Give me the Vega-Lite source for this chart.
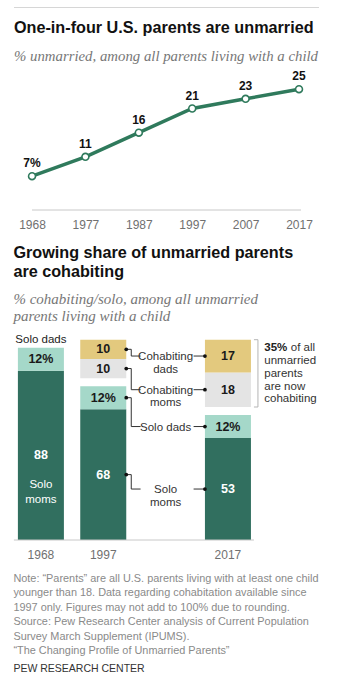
{
  "$schema": "https://vega.github.io/schema/vega-lite/v6.json",
  "background": "white",
  "padding": {"left": 13, "top": 4, "right": 0, "bottom": 0},
  "spacing": 9,
  "config": {
    "view": {"stroke": null},
    "font": "Liberation Sans",
    "axis": {"grid": false}
  },
  "title": {
    "text": [
      "Note: “Parents” are all U.S. parents living with at least one child",
      "younger than 18. Data regarding cohabitation available since",
      "1997 only. Figures may not add to 100% due to rounding.",
      "Source: Pew Research Center analysis of Current Population",
      "Survey March Supplement (IPUMS).",
      "“The Changing Profile of Unmarried Parents”"
    ],
    "subtitle": "PEW RESEARCH CENTER",
    "orient": "bottom",
    "anchor": "start",
    "font": "Liberation Sans",
    "fontSize": 10.9,
    "fontWeight": "normal",
    "color": "#8a8a8a",
    "lineHeight": 14.4,
    "subtitleFont": "Liberation Sans",
    "subtitleFontSize": 10.5,
    "subtitleColor": "#333333",
    "subtitlePadding": 8,
    "offset": 13
  },
  "vconcat": [
    {
      "width": 305,
      "height": 1,
      "data": {"values": [{"a": 1}]},
      "mark": {"type": "point", "opacity": 0},
      "encoding": {},
      "view": {"fill": "#d6d6d6", "stroke": null}
    },
    {
      "width": 305,
      "height": 145,
      "title": {
        "text": "One-in-four U.S. parents are unmarried",
        "subtitle": "% unmarried, among all parents living with a child",
        "anchor": "start",
        "font": "Liberation Sans",
        "fontSize": 16.2,
        "fontWeight": "bold",
        "color": "#111111",
        "subtitleFont": "Liberation Serif",
        "subtitleFontStyle": "italic",
        "subtitleFontSize": 14.8,
        "subtitleColor": "#777777",
        "subtitlePadding": 13,
        "offset": 1
      },
      "data": {
        "values": [
          {"year": "1968", "pct": 7, "label": "7%"},
          {"year": "1977", "pct": 11, "label": "11"},
          {"year": "1987", "pct": 16, "label": "16"},
          {"year": "1997", "pct": 21, "label": "21"},
          {"year": "2007", "pct": 23, "label": "23"},
          {"year": "2017", "pct": 25, "label": "25"}
        ]
      },
      "encoding": {
        "x": {
          "field": "year",
          "type": "ordinal",
          "scale": {"type": "point", "padding": 0.356, "align": 0.474},
          "axis": {
            "title": null,
            "domain": false,
            "ticks": false,
            "labelAngle": 0,
            "labelFont": "Liberation Sans",
            "labelFontSize": 12,
            "labelColor": "#707070",
            "labelPadding": 9,
            "minExtent": 26
          }
        },
        "y": {
          "field": "pct",
          "type": "quantitative",
          "scale": {"domain": [0, 30], "nice": false},
          "axis": null
        }
      },
      "layer": [
        {
          "transform": [{"filter": {"field": "year", "equal": "1968"}}],
          "mark": {"type": "rule", "color": "#c8c8c8", "strokeWidth": 1, "x2Offset": 2},
          "encoding": {
            "x": {"datum": "1968"},
            "x2": {"datum": "2017"},
            "y": {"datum": 0}
          }
        },
        {
          "mark": {"type": "line", "color": "#2f7a5c", "strokeWidth": 3.5}
        },
        {
          "mark": {"type": "point", "filled": true, "fill": "#ffffff", "stroke": "#2f7a5c", "strokeWidth": 1.6, "size": 48, "opacity": 1}
        },
        {
          "mark": {"type": "text", "dy": -13, "font": "Liberation Sans", "fontWeight": "bold", "fontSize": 12, "color": "#111111"},
          "encoding": {"text": {"field": "label"}}
        }
      ]
    },
    {
      "width": 305,
      "height": 200,
      "title": {
        "text": ["Growing share of unmarried parents", "are cohabiting"],
        "subtitle": ["% cohabiting/solo, among all unmarried", "parents living with a child"],
        "anchor": "start",
        "font": "Liberation Sans",
        "fontSize": 16.2,
        "fontWeight": "bold",
        "color": "#111111",
        "lineHeight": 19,
        "subtitleFont": "Liberation Serif",
        "subtitleFontStyle": "italic",
        "subtitleFontSize": 15,
        "subtitleColor": "#777777",
        "subtitleLineHeight": 17,
        "subtitlePadding": 11,
        "offset": 10
      },
      "data": {
        "values": [
          {"year": "1968", "cat": "Solo\nmoms", "group": "solo", "pct": 88, "label": "88", "order": 1},
          {"year": "1968", "cat": "Solo dads", "group": "solo", "pct": 12, "label": "12%", "order": 2},
          {"year": "1997", "cat": "Solo\nmoms", "group": "solo", "pct": 68, "label": "68", "order": 1},
          {"year": "1997", "cat": "Solo dads", "group": "solo", "pct": 12, "label": "12%", "order": 2},
          {"year": "1997", "cat": "Cohabiting\nmoms", "group": "cohab", "pct": 10, "label": "10", "order": 3},
          {"year": "1997", "cat": "Cohabiting\ndads", "group": "cohab", "pct": 10, "label": "10", "order": 4},
          {"year": "2017", "cat": "Solo\nmoms", "group": "solo", "pct": 53, "label": "53", "order": 1},
          {"year": "2017", "cat": "Solo dads", "group": "solo", "pct": 12, "label": "12%", "order": 2},
          {"year": "2017", "cat": "Cohabiting\nmoms", "group": "cohab", "pct": 18, "label": "18", "order": 3},
          {"year": "2017", "cat": "Cohabiting\ndads", "group": "cohab", "pct": 17, "label": "17", "order": 4}
        ]
      },
      "transform": [
        {"stack": "pct", "groupby": ["year"], "sort": [{"field": "order", "order": "ascending"}], "as": ["y0", "y1"]},
        {"fold": ["y0", "y1"], "as": ["edge", "edgeval"]},
        {"joinaggregate": [{"op": "mean", "field": "edgeval", "as": "mid"}], "groupby": ["year", "cat"]},
        {"filter": {"field": "edge", "equal": "y0"}}
      ],
      "encoding": {
        "x": {
          "field": "year",
          "type": "nominal",
          "scale": {"domain": ["1968", "1997", "lab", "2017", "note"], "paddingInner": 0.262, "paddingOuter": 0.077, "align": 0.406},
          "axis": {
            "values": ["1968", "1997", "2017"],
            "title": null,
            "domain": false,
            "ticks": false,
            "labelAngle": 0,
            "labelFont": "Liberation Sans",
            "labelFontSize": 12,
            "labelColor": "#707070",
            "labelPadding": 9
          }
        }
      },
      "layer": [
        {
          "transform": [{"filter": {"field": "group", "equal": "solo"}}],
          "mark": {"type": "bar"},
          "encoding": {
            "y": {"field": "y0", "type": "quantitative", "scale": {"domain": [0, 104], "nice": false}, "axis": null},
            "y2": {"field": "y1"},
            "color": {
              "field": "cat",
              "type": "nominal",
              "scale": {"domain": ["Solo\nmoms", "Solo dads", "Cohabiting\nmoms", "Cohabiting\ndads"], "range": ["#316f5f", "#a5d8c9", "#e4e4e4", "#e3c97e"]},
              "legend": null
            }
          }
        },
        {
          "transform": [{"filter": {"field": "group", "equal": "cohab"}}],
          "mark": {"type": "bar", "yOffset": -8, "y2Offset": -8},
          "encoding": {
            "y": {"field": "y0", "type": "quantitative"},
            "y2": {"field": "y1"},
            "color": {"field": "cat", "type": "nominal", "legend": null}
          }
        },
        {
          "transform": [{"filter": {"field": "order", "equal": 1}}, {"filter": {"field": "year", "equal": "1968"}}],
          "mark": {"type": "rule", "color": "#c8c8c8", "strokeWidth": 1, "xOffset": -4, "x2Offset": 3},
          "encoding": {
            "x": {"datum": "1968", "bandPosition": 0},
            "x2": {"datum": "2017", "bandPosition": 1},
            "y": {"datum": 0}
          }
        },
        {
          "transform": [{"filter": {"field": "group", "equal": "solo"}}],
          "mark": {"type": "text", "font": "Liberation Sans", "fontWeight": "bold", "fontSize": 12.5, "baseline": "middle"},
          "encoding": {
            "y": {"field": "mid", "type": "quantitative"},
            "text": {"field": "label"},
            "color": {"condition": {"test": "datum.order == 1", "value": "#ffffff"}, "value": "#1a1a1a"}
          }
        },
        {
          "transform": [{"filter": {"field": "group", "equal": "cohab"}}],
          "mark": {"type": "text", "font": "Liberation Sans", "fontWeight": "bold", "fontSize": 12.5, "baseline": "middle", "dy": -8, "color": "#1a1a1a"},
          "encoding": {
            "y": {"field": "mid", "type": "quantitative"},
            "text": {"field": "label"}
          }
        },
        {
          "transform": [{"filter": {"field": "year", "equal": "1968"}}, {"filter": {"field": "order", "equal": 2}}],
          "mark": {"type": "text", "font": "Liberation Sans", "fontSize": 11.5, "baseline": "alphabetic", "dy": -5, "color": "#222222"},
          "encoding": {
            "y": {"field": "y1", "type": "quantitative"},
            "text": {"field": "cat"}
          }
        },
        {
          "transform": [{"filter": {"field": "year", "equal": "1968"}}, {"filter": {"field": "order", "equal": 1}}],
          "mark": {"type": "text", "font": "Liberation Sans", "fontSize": 11.5, "baseline": "alphabetic", "dy": 33, "lineBreak": "\n", "lineHeight": 15, "color": "#ffffff"},
          "encoding": {
            "y": {"field": "mid", "type": "quantitative"},
            "text": {"field": "cat"}
          }
        },
        {
          "transform": [{"filter": {"field": "year", "equal": "2017"}}, {"filter": {"field": "group", "equal": "solo"}}],
          "mark": {"type": "text", "font": "Liberation Sans", "fontSize": 11.5, "baseline": "alphabetic", "dy": 4, "lineBreak": "\n", "lineHeight": 12.5, "color": "#333333"},
          "encoding": {
            "x": {"datum": "lab"},
            "y": {"field": "mid", "type": "quantitative"},
            "text": {"field": "cat"}
          }
        },
        {
          "transform": [{"filter": {"field": "year", "equal": "2017"}}, {"filter": {"field": "group", "equal": "cohab"}}],
          "mark": {"type": "text", "font": "Liberation Sans", "fontSize": 11.5, "baseline": "alphabetic", "dy": -4, "lineBreak": "\n", "lineHeight": 12.5, "color": "#333333"},
          "encoding": {
            "x": {"datum": "lab"},
            "y": {"field": "mid", "type": "quantitative"},
            "text": {"field": "cat"}
          }
        },
        {
          "transform": [
            {"filter": {"field": "year", "oneOf": ["1997", "2017"]}},
            {"pivot": "year", "value": "mid", "groupby": ["cat", "group"]}
          ],
          "layer": [
            {
              "transform": [{"filter": {"field": "group", "equal": "solo"}}],
              "mark": {"type": "rule", "color": "#333333", "strokeWidth": 1, "x2Offset": 5},
              "encoding": {
                "x": {"datum": "1997", "bandPosition": 1},
                "x2": {"datum": "1997", "bandPosition": 1},
                "y": {"field": "1997", "type": "quantitative"}
              }
            },
            {
              "transform": [{"filter": {"field": "group", "equal": "solo"}}],
              "mark": {"type": "rule", "color": "#333333", "strokeWidth": 1, "xOffset": 5},
              "encoding": {
                "x": {"datum": "1997", "bandPosition": 1},
                "y": {"field": "1997", "type": "quantitative"},
                "y2": {"field": "2017"}
              }
            },
            {
              "transform": [{"filter": {"field": "group", "equal": "solo"}}],
              "mark": {"type": "rule", "color": "#333333", "strokeWidth": 1, "xOffset": 5, "x2Offset": -2},
              "encoding": {
                "x": {"datum": "1997", "bandPosition": 1},
                "x2": {"datum": "lab", "bandPosition": 0},
                "y": {"field": "2017", "type": "quantitative"}
              }
            },
            {
              "transform": [{"filter": {"field": "group", "equal": "solo"}}],
              "mark": {"type": "rule", "color": "#333333", "strokeWidth": 1, "xOffset": 5},
              "encoding": {
                "x": {"datum": "lab", "bandPosition": 1},
                "x2": {"datum": "2017", "bandPosition": 0},
                "y": {"field": "2017", "type": "quantitative"}
              }
            },
            {
              "transform": [{"filter": {"field": "group", "equal": "solo"}}],
              "mark": {"type": "point", "filled": true, "color": "#111111", "size": 14, "opacity": 1},
              "encoding": {
                "x": {"datum": "1997", "bandPosition": 1},
                "y": {"field": "1997", "type": "quantitative"}
              }
            },
            {
              "transform": [{"filter": {"field": "group", "equal": "solo"}}],
              "mark": {"type": "point", "filled": true, "color": "#111111", "size": 14, "opacity": 1},
              "encoding": {
                "x": {"datum": "2017", "bandPosition": 0},
                "y": {"field": "2017", "type": "quantitative"}
              }
            },
            {
              "transform": [{"filter": {"field": "group", "equal": "cohab"}}],
              "mark": {"type": "rule", "color": "#333333", "strokeWidth": 1, "x2Offset": 5, "yOffset": -8},
              "encoding": {
                "x": {"datum": "1997", "bandPosition": 1},
                "x2": {"datum": "1997", "bandPosition": 1},
                "y": {"field": "1997", "type": "quantitative"}
              }
            },
            {
              "transform": [{"filter": {"field": "group", "equal": "cohab"}}],
              "mark": {"type": "rule", "color": "#333333", "strokeWidth": 1, "xOffset": 5, "yOffset": -8, "y2Offset": -8},
              "encoding": {
                "x": {"datum": "1997", "bandPosition": 1},
                "y": {"field": "1997", "type": "quantitative"},
                "y2": {"field": "2017"}
              }
            },
            {
              "transform": [{"filter": {"field": "group", "equal": "cohab"}}],
              "mark": {"type": "rule", "color": "#333333", "strokeWidth": 1, "xOffset": 5, "x2Offset": -2, "yOffset": -8},
              "encoding": {
                "x": {"datum": "1997", "bandPosition": 1},
                "x2": {"datum": "lab", "bandPosition": 0},
                "y": {"field": "2017", "type": "quantitative"}
              }
            },
            {
              "transform": [{"filter": {"field": "group", "equal": "cohab"}}],
              "mark": {"type": "rule", "color": "#333333", "strokeWidth": 1, "xOffset": 5, "yOffset": -8},
              "encoding": {
                "x": {"datum": "lab", "bandPosition": 1},
                "x2": {"datum": "2017", "bandPosition": 0},
                "y": {"field": "2017", "type": "quantitative"}
              }
            },
            {
              "transform": [{"filter": {"field": "group", "equal": "cohab"}}],
              "mark": {"type": "point", "filled": true, "color": "#111111", "size": 14, "opacity": 1, "yOffset": -8},
              "encoding": {
                "x": {"datum": "1997", "bandPosition": 1},
                "y": {"field": "1997", "type": "quantitative"}
              }
            },
            {
              "transform": [{"filter": {"field": "group", "equal": "cohab"}}],
              "mark": {"type": "point", "filled": true, "color": "#111111", "size": 14, "opacity": 1, "yOffset": -8},
              "encoding": {
                "x": {"datum": "2017", "bandPosition": 0},
                "y": {"field": "2017", "type": "quantitative"}
              }
            }
          ]
        },
        {
          "transform": [{"filter": {"field": "year", "equal": "2017"}}, {"filter": {"field": "group", "equal": "cohab"}}],
          "layer": [
            {
              "mark": {"type": "rule", "color": "#b5b5b5", "strokeWidth": 1, "xOffset": 7, "yOffset": -8, "y2Offset": -8},
              "encoding": {
                "x": {"datum": "2017", "bandPosition": 1},
                "y": {"field": "y0", "aggregate": "min", "type": "quantitative"},
                "y2": {"field": "y1", "aggregate": "max"}
              }
            },
            {
              "mark": {"type": "rule", "color": "#b5b5b5", "strokeWidth": 1, "xOffset": 3, "x2Offset": 7, "yOffset": -8},
              "encoding": {
                "x": {"datum": "2017", "bandPosition": 1},
                "x2": {"datum": "2017", "bandPosition": 1},
                "y": {"field": "y1", "aggregate": "max", "type": "quantitative"}
              }
            },
            {
              "mark": {"type": "rule", "color": "#b5b5b5", "strokeWidth": 1, "xOffset": 3, "x2Offset": 7, "yOffset": -8},
              "encoding": {
                "x": {"datum": "2017", "bandPosition": 1},
                "x2": {"datum": "2017", "bandPosition": 1},
                "y": {"field": "y0", "aggregate": "min", "type": "quantitative"}
              }
            },
            {
              "mark": {"type": "text", "text": "35%", "font": "Liberation Sans", "fontWeight": "bold", "fontSize": 11.5, "align": "left", "baseline": "alphabetic", "dx": -3, "dy": 3.5, "color": "#222222"},
              "encoding": {
                "x": {"datum": "note", "bandPosition": 0},
                "y": {"field": "y1", "aggregate": "max", "type": "quantitative"}
              }
            },
            {
              "mark": {"type": "text", "text": "of all", "font": "Liberation Sans", "fontSize": 11.5, "align": "left", "baseline": "alphabetic", "dx": 23.5, "dy": 3.5, "color": "#333333"},
              "encoding": {
                "x": {"datum": "note", "bandPosition": 0},
                "y": {"field": "y1", "aggregate": "max", "type": "quantitative"}
              }
            },
            {
              "mark": {"type": "text", "text": ["unmarried", "parents", "are now", "cohabiting"], "font": "Liberation Sans", "fontSize": 11.5, "lineHeight": 12.8, "align": "left", "baseline": "alphabetic", "dx": -3, "dy": 16.3, "color": "#333333"},
              "encoding": {
                "x": {"datum": "note", "bandPosition": 0},
                "y": {"field": "y1", "aggregate": "max", "type": "quantitative"}
              }
            }
          ]
        }
      ]
    }
  ]
}
